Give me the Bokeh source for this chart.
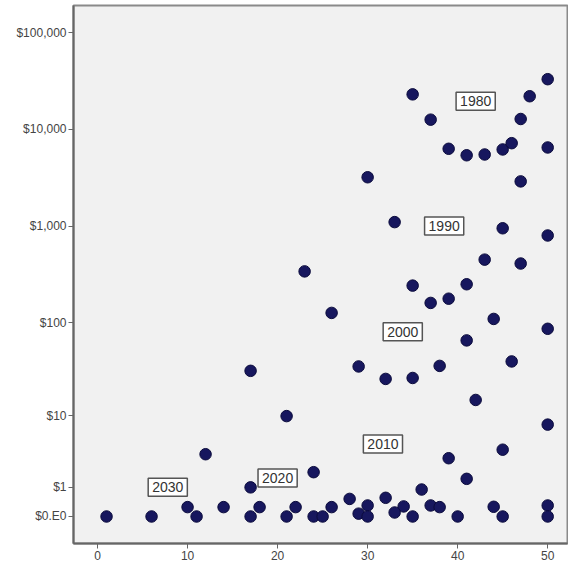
import numpy as np
from bokeh.plotting import figure
from bokeh.models import ColumnDataSource, FixedTicker, CustomJSTickFormatter
from bokeh.core.properties import value
from bokeh.embed import file_html
from bokeh.resources import INLINE

# data: x position and dollar value for each point
x_vals = [50, 35, 48, 37, 47, 39, 41, 43, 45, 46, 50, 30, 47, 33, 45, 50, 43, 47, 23, 35,
          41, 37, 39, 26, 44, 50, 41, 46, 29, 38, 32, 35, 42, 50, 21, 45, 39, 24, 41, 36,
          28, 32, 22, 26, 30, 34, 37, 38, 44, 50, 29, 30, 33, 35, 40, 45, 50, 24, 25, 21,
          17, 12, 17, 10, 11, 14, 1, 6, 17, 18]
dollar_vals = [33000, 23000, 22000, 12600, 12800, 6300, 5400, 5500, 6200, 7200, 6500, 3200,
               2900, 1100, 950, 800, 450, 410, 340, 242, 250, 160, 177, 126, 109, 86, 65, 39,
               34.5, 35, 25.4, 26, 15, 7.9, 9.9, 3.9, 3.0, 1.87, 1.45, 0.9, 0.52, 0.56, 0.25,
               0.25, 0.3, 0.27, 0.3, 0.25, 0.26, 0.3, 0.07, 0, 0.1, 0, 0, 0, 0, 0, 0, 0,
               31, 3.4, 1.0, 0.25, 0, 0.25, 0, 0, 0, 0.25]

label_text = ["1980", "1990", "2000", "2010", "2020", "2030"]
label_x = [42, 38.5, 33.9, 31.7, 20, 7.8]
label_dollars = [19500, 1000, 80, 4.6, 1.5, 1.0]

tick_dollars = [0, 1, 10, 100, 1000, 10000, 100000]
tick_labels = ["$0.E0", "$1", "$10", "$100", "$1,000", "$10,000", "$100,000"]
x_ticks = [0, 10, 20, 30, 40, 50]

def tr(v):
    return list(np.log10(1 + np.asarray(v, dtype=float)))

src = ColumnDataSource(dict(x=x_vals, y=tr(dollar_vals)))
lsrc = ColumnDataSource(dict(x=label_x, y=tr(label_dollars), t=label_text))

p = figure(width=568, height=570, output_backend="svg", toolbar_location=None,
           x_range=(-2.67, 52.2), y_range=(-0.279, 5.28),
           min_border_left=73, min_border_right=1, min_border_top=5, min_border_bottom=27)
p.background_fill_color = "#F1F1F1"
p.border_fill_color = "white"
p.outline_line_color = "#8A8A8A"
p.outline_line_width = 2
p.xgrid.visible = False
p.ygrid.visible = False

p.scatter("x", "y", source=src, size=11.5, fill_color="#17175E", line_color="#0B0B3C", line_width=1)

p.text("x", "y", text="t", source=lsrc, text_align="center", text_baseline="middle",
       text_font=value("Liberation Sans"), text_font_size="14px", text_color="#333333",
       background_fill_color="white", border_line_color="#555555", border_line_width=1.5,
       padding=4)

yt = tr(tick_dollars)
p.yaxis.ticker = FixedTicker(ticks=yt)
p.yaxis.formatter = CustomJSTickFormatter(args=dict(tvals=yt, tlabels=tick_labels), code="""
let best = 0; let d = 1e9;
for (let i = 0; i < tvals.length; i++) { const e = Math.abs(tvals[i] - tick); if (e < d) { d = e; best = i; } }
return tlabels[best];
""")
p.xaxis.ticker = FixedTicker(ticks=x_ticks)

for ax in (p.xaxis, p.yaxis):
    ax.axis_line_color = "#666666"
    ax.axis_line_width = 2
    ax.major_tick_line_color = "#666666"
    ax.major_tick_line_width = 1
    ax.major_tick_out = 5
    ax.major_tick_in = 0
    ax.minor_tick_line_color = None
    ax.major_label_text_font = "Liberation Sans"
    ax.major_label_text_font_size = "12px"
    ax.major_label_text_color = "#444444"
    ax.major_label_standoff = 2

open("out.html", "w").write(file_html(p, INLINE))
